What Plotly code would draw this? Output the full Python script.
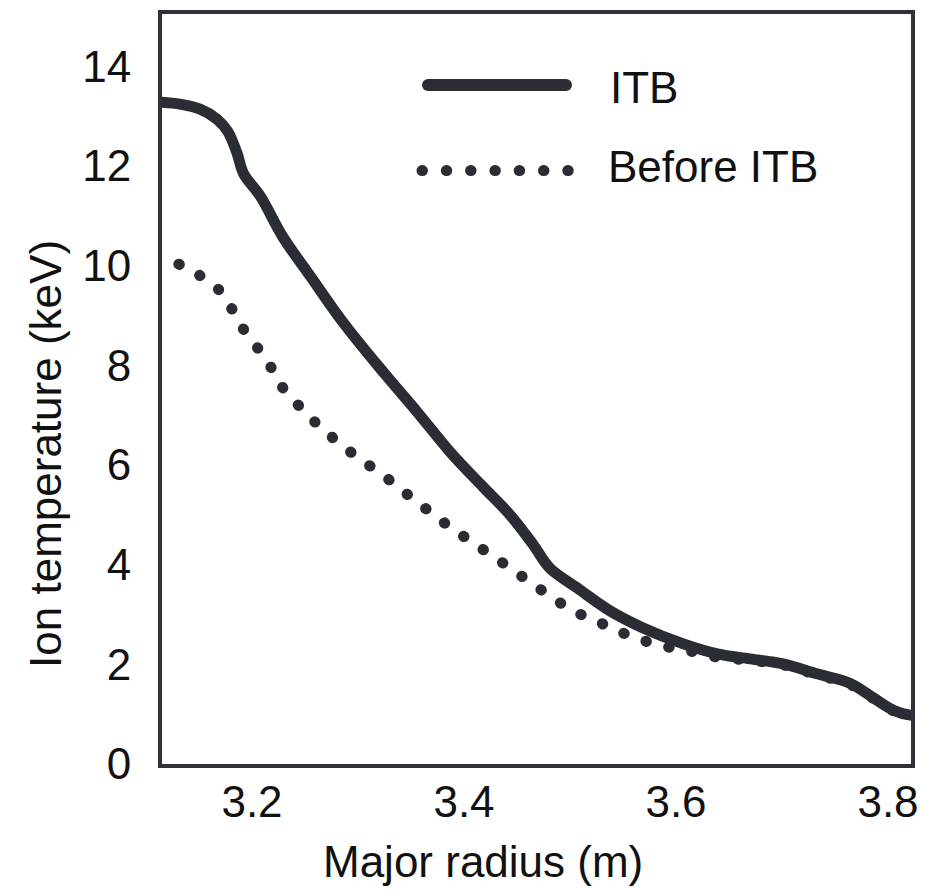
import plotly.graph_objects as go

# ---- data ----
itb_r = [3.113, 3.132, 3.151, 3.167, 3.177, 3.186, 3.192, 3.208, 3.229, 3.255,
         3.286, 3.324, 3.356, 3.387, 3.418, 3.443, 3.465, 3.481, 3.507, 3.538,
         3.569, 3.607, 3.639, 3.670, 3.701, 3.733, 3.764, 3.786, 3.805, 3.821, 3.824]
itb_t = [13.28, 13.24, 13.14, 12.94, 12.70, 12.25, 11.85, 11.39, 10.58, 9.79,
         8.86, 7.86, 7.06, 6.26, 5.56, 5.01, 4.41, 3.93, 3.53, 3.07,
         2.73, 2.41, 2.21, 2.11, 2.01, 1.81, 1.62, 1.33, 1.08, 0.98, 0.98]

before_r = [3.131, 3.151, 3.169, 3.182, 3.193, 3.207, 3.220, 3.231, 3.247, 3.263,
            3.280, 3.298, 3.316, 3.335, 3.353, 3.371, 3.389, 3.408, 3.427, 3.446,
            3.464, 3.483, 3.502, 3.523, 3.543, 3.565, 3.587, 3.609, 3.632, 3.654,
            3.670, 3.701, 3.733, 3.764, 3.786, 3.805, 3.821]
before_t = [10.03, 9.80, 9.51, 9.10, 8.69, 8.30, 7.89, 7.49, 7.13, 6.79,
            6.48, 6.18, 5.91, 5.61, 5.30, 5.01, 4.72, 4.45, 4.17, 3.90,
            3.62, 3.35, 3.08, 2.89, 2.69, 2.51, 2.37, 2.29, 2.17, 2.11,
            2.08, 1.99, 1.79, 1.60, 1.32, 1.07, 0.97]

x_ticks = [3.2, 3.4, 3.6, 3.8]
x_ticktext = ["3.2", "3.4", "3.6", "3.8"]
y_ticks = [0, 2, 4, 6, 8, 10, 12, 14]
y_ticktext = ["0", "2", "4", "6", "8", "10", "12", "14"]

series_names = ["ITB", "Before ITB"]

LINE_COLOR = "#2b2d34"
FRAME_COLOR = "#303238"
TEXT_COLOR = "#111111"
FONT = "Liberation Sans, Arial, sans-serif"
FS = 44

fig = go.Figure()
fig.add_trace(go.Scatter(
    x=before_r, y=before_t, mode="lines", name=series_names[1],
    line=dict(color=LINE_COLOR, width=11, dash="0.5px,23px", shape="spline", smoothing=1.0),
    showlegend=False, hoverinfo="skip"))
fig.add_trace(go.Scatter(
    x=itb_r, y=itb_t, mode="lines", name=series_names[0],
    line=dict(color=LINE_COLOR, width=11, shape="spline", smoothing=1.0),
    showlegend=False, hoverinfo="skip"))

# custom legend (long line samples like the reference)
shapes = [
    dict(type="line", xref="paper", yref="paper", x0=0.3551, x1=0.5394, y0=0.9052, y1=0.9052,
         line=dict(color=LINE_COLOR, width=12)),
    dict(type="line", xref="paper", yref="paper", x0=0.3471, x1=0.5430, y0=0.7913, y1=0.7913,
         line=dict(color=LINE_COLOR, width=11, dash="0.5px,23.8px")),
]
annotations = [
    dict(text=series_names[0], xref="paper", yref="paper", x=0.5955, y=0.9026,
         xanchor="left", yanchor="middle", showarrow=False,
         font=dict(family=FONT, size=FS, color=TEXT_COLOR)),
    dict(text=series_names[1], xref="paper", yref="paper", x=0.5929, y=0.7972,
         xanchor="left", yanchor="middle", showarrow=False,
         font=dict(family=FONT, size=FS, color=TEXT_COLOR)),
    dict(text="Major radius (m)", xref="paper", yref="paper", x=0.4292, y=-0.1650,
         xanchor="center", yanchor="bottom", showarrow=False,
         font=dict(family=FONT, size=FS, color=TEXT_COLOR)),
    dict(text="Ion temperature (keV)", xref="paper", yref="paper", x=-0.1548, y=0.4135,
         xanchor="center", yanchor="middle", showarrow=False, textangle=-90,
         font=dict(family=FONT, size=FS, color=TEXT_COLOR)),
]

fig.update_layout(
    width=937, height=889,
    margin=dict(l=162, r=26, t=9.5, b=125, pad=0),
    paper_bgcolor="white", plot_bgcolor="white",
    font=dict(family=FONT, size=FS, color=TEXT_COLOR),
    shapes=shapes, annotations=annotations,
    xaxis=dict(range=[3.1151, 3.8217], tickvals=x_ticks, ticktext=x_ticktext,
               showline=True, mirror=True, linewidth=4, linecolor=FRAME_COLOR,
               showgrid=False, zeroline=False, ticks="", ticklabelstandoff=-4,
               tickfont=dict(family=FONT, size=FS, color=TEXT_COLOR)),
    yaxis=dict(range=[0, 15.05], tickvals=y_ticks, ticktext=y_ticktext,
               showline=True, mirror=True, linewidth=4, linecolor=FRAME_COLOR,
               showgrid=False, zeroline=False, ticks="", ticklabelstandoff=18,
               tickfont=dict(family=FONT, size=FS, color=TEXT_COLOR)),
)

post = """
var gd = document.getElementById('{plot_id}');
function roundCaps(){
  gd.querySelectorAll('path.js-line, .shapelayer path').forEach(function(p){
    p.style.strokeLinecap = 'round'; p.style.strokeLinejoin = 'round';
  });
}
roundCaps();
if (gd.on) { gd.on('plotly_afterplot', roundCaps); }
"""

fig.write_html("out.html", post_script=post, config={"displayModeBar": False})
